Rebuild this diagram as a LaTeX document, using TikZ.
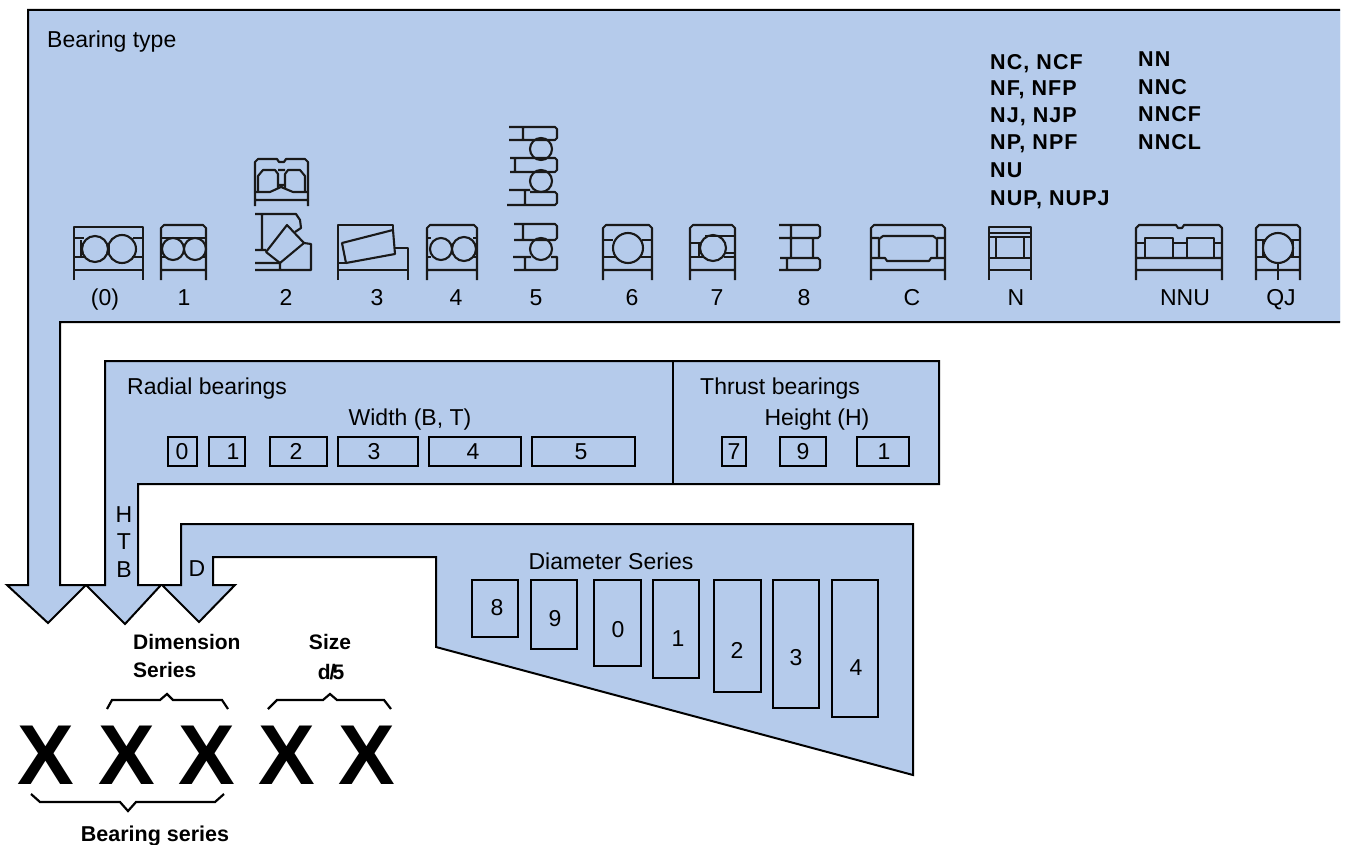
\documentclass[tikz,border=0pt]{standalone}
\usepackage{fontspec}
\setmainfont{Liberation Sans}
\definecolor{panelblue}{HTML}{B5CBEB}
\newcommand{\bearingframe}[2]{\draw[ring] (#1,280) -- (#1,228) -- ({#1+3},225) -- ({#2-3},225) -- (#2,228) -- (#2,280) (#1,270) -- (#2,270);}
\begin{document}
\begin{tikzpicture}[
        x=1pt,
        y=-1pt,
        panel/.style={draw=black, line width=2pt, fill=panelblue, line join=miter},
        ring/.style={draw=black!90, line width=2.1pt, line join=round},
        txt/.style={inner sep=0pt, text height=16.5pt, text depth=0pt, font=\fontsize{23}{27}\selectfont},
        heavy/.style={inner sep=0pt, text height=16pt, text depth=0pt, font=\fontsize{21}{27}\selectfont\bfseries},
        code/.style={heavy, anchor=west, font=\fontsize{21.5}{27}\selectfont\bfseries\addfontfeature{LetterSpace=5}},
        bigx/.style={inner sep=0pt, anchor=base, font=\fontsize{85}{90}\selectfont\bfseries},
        cell/.style={draw, line width=2pt, inner sep=0pt, outer sep=0pt}
    ]
        \useasboundingbox (0,0) rectangle (1348,845);

        % blue panels
        \fill[panelblue] (28,10) -- (1340,10) -- (1340,322) -- (60,322) -- (60,585) -- (28,585) -- cycle;
        \draw[panel] (1340,10) -- (28,10) -- (28,585) -- (7,585) -- (48,623) -- (86,585) -- (60,585) -- (60,322) -- (1340,322);
        \draw[panel] (105,361) -- (939,361) -- (939,484) -- (138,484) -- (138,585) -- (161,585) -- (125,624) -- (86,585) -- (105,585) -- cycle;
        \draw[panel] (181,524) -- (913,524) -- (913,775) -- (436,647) -- (436,557) -- (213,557) -- (213,585) -- (235,585) -- (199,622) -- (162,585) -- (181,585) -- cycle;
        \draw[line width=2pt] (673,361) -- (673,484);

        \node[txt, anchor=west] (bearingtype) at (47,39) {Bearing type};

        % bearing (0)
        \draw[ring] (74,280) -- (74,227) -- (143,227) -- (143,280) (74,270) -- (143,270) (74,238) -- (84,238) (133,238) -- (143,238) (81,240) -- (81,256) (74,257) -- (85,257) (132,257) -- (143,257);
        \draw[ring] (95,249) circle[radius=13pt] (122,249) circle[radius=14pt];
        \draw[ring, line width=3pt] (108,243) -- (108,255);
        % bearing 1
        \bearingframe{161}{206}
        \draw[ring] (161,238) -- (206,238) (161,257) -- (165,257) (202,257) -- (206,257);
        \draw[ring] (173,249) circle[radius=11pt] (195,249) circle[radius=11pt];
        % bearing 2, two drawings
        \draw[ring] (255,206) -- (255,162) -- (258,159) -- (277,159) -- (279,162) -- (284,162) -- (286,159) -- (305,159) -- (308,162) -- (308,206) (255,200) -- (308,200);
        \draw[ring] (258,192) -- (258,176) -- (263,170) -- (275,170) -- (278,174) -- (278,188) (305,192) -- (305,176) -- (300,170) -- (288,170) -- (285,174) -- (285,188);
        \draw[ring] (278,170) -- (285,170) (279,185) -- (284,185) (255,192) -- (270,192) -- (281,187) -- (293,192) -- (308,192);
        \draw[ring] (255,214) -- (296,214) -- (300,220) -- (301,228) -- (295,232) (262,214) -- (262,250) (255,250) -- (266,250);
        \draw[ring] (287,225) -- (304,243) -- (280,263) -- (266,252) -- cycle;
        \draw[ring] (255,263) -- (280,263) (255,270) -- (311,270) -- (311,244) -- (304,243) (280,263) -- (280,270);
        % bearing 3
        \draw[ring] (338,280) -- (338,225) -- (393,225) -- (393,230) (338,270) -- (408,270) (408,280) -- (408,248) -- (395,248) (338,263) -- (346,263);
        \draw[ring] (342,243) -- (393,230) -- (395,254) -- (346,263) -- cycle;
        % bearing 4
        \bearingframe{427}{477}
        \draw[ring] (427,257) -- (431,257) (473,257) -- (477,257) (427,238) -- (431,238) (473,238) -- (477,238);
        \draw[ring] (441,249) circle[radius=11pt] (464,249) circle[radius=12pt];
        % bearing 5, three drawings
        \draw[ring] (509,127) -- (555,127) -- (557,129) -- (557,138) -- (555,140) -- (509,140) (523,127) -- (523,140);
        \draw[ring] (541,149) circle[radius=11pt] (541,181) circle[radius=11pt];
        \draw[ring] (510,158) -- (555,158) -- (557,160) -- (557,170) -- (555,172) -- (510,172) (515,158) -- (515,172);
        \draw[ring] (509,190) -- (530,190) (530,192) -- (555,192) -- (557,194) -- (557,203) -- (555,205) -- (507,205) (525,190) -- (525,205);
        \draw[ring] (514,224) -- (555,224) -- (557,226) -- (557,238) -- (555,240) -- (514,240) (523,224) -- (523,240);
        \draw[ring] (541,249) circle[radius=11pt];
        \draw[ring] (513,257) -- (531,257) (551,257) -- (557,257) -- (557,269) -- (555,270) -- (514,270) (525,257) -- (525,270);
        % bearing 6
        \bearingframe{603}{652}
        \draw[ring] (603,240) -- (613,240) (642,240) -- (652,240) (603,257) -- (616,257) (640,257) -- (652,257);
        \draw[ring] (628,248) circle[radius=15pt];
        % bearing 7
        \bearingframe{690}{735}
        \draw[ring] (705,236) -- (735,236) (690,243) -- (700,243) (699,243) -- (699,257) (725,253) -- (735,253) (690,257) -- (703,257) (724,257) -- (735,257);
        \draw[ring] (713,248) circle[radius=13pt];
        % bearing 8
        \draw[ring] (779,225) -- (818,225) -- (820,227) -- (820,236) -- (818,238) -- (779,238) (791,225) -- (791,258) (813,238) -- (813,258);
        \draw[ring] (780,258) -- (818,258) -- (820,260) -- (820,268) -- (818,270) -- (779,270) (787,258) -- (787,270);
        % bearing C
        \bearingframe{871}{945}
        \draw[ring] (871,238) -- (879,238) (937,238) -- (945,238) (871,258) -- (885,258) -- (887,261) -- (929,261) -- (931,258) -- (945,258);
        \draw[ring] (879,258) -- (879,239) -- (883,236) -- (933,236) -- (937,239) -- (937,258);
        % bearing N
        \draw[ring] (989,280) -- (989,227) -- (1031,227) -- (1031,280) (989,233) -- (1031,233) (989,270) -- (1031,270) (989,258) -- (1031,258);
        \draw[ring] (996,237) rectangle (1024,258);
        \draw[ring] (989,237) -- (996,237) (1024,237) -- (1031,237);
        % bearing NNU
        \draw[ring] (1136,280) -- (1136,228) -- (1139,225) -- (1176,225) -- (1178,228) -- (1182,228) -- (1184,225) -- (1219,225) -- (1222,228) -- (1222,280) (1136,270) -- (1222,270) (1136,258) -- (1222,258);
        \draw[ring] (1145,238) rectangle (1173,258) (1187,238) rectangle (1214,258);
        \draw[ring] (1136,243) -- (1145,243) (1173,243) -- (1187,243) (1214,243) -- (1222,243);
        % bearing QJ
        \bearingframe{1256}{1300}
        \draw[ring] (1256,240) -- (1265,240) (1291,240) -- (1300,240) (1263,240) -- (1263,257) (1293,240) -- (1293,257) (1256,257) -- (1267,257) (1289,257) -- (1300,257) (1278,263) -- (1278,280);
        \draw[ring] (1278,248) circle[radius=15pt];

        \foreach \nm/\lab/\x in {a/(0)/105, b/1/184, c/2/286, d/3/377, e/4/456, f/5/536, g/6/632, h/7/717, i/8/804, j/C/912, k/N/1016, l/NNU/1185, m/QJ/1281}
            \node[txt] (type\nm) at (\x,297) {\lab};

        \foreach \nm/\lab/\y in {a/{NC, NCF}/62, b/{NF, NFP}/88, c/{NJ, NJP}/115, d/{NP, NPF}/142, e/NU/170, f/{NUP, NUPJ}/197}
            \node[code] (codeleft\nm) at (990,\y) {\lab};
        \foreach \nm/\lab/\y in {a/NN/59, b/NNC/87, c/NNCF/114, d/NNCL/142}
            \node[code] (coderight\nm) at (1138,\y) {\lab};

        % width and height series
        \node[txt, anchor=west] (radial) at (127,386) {Radial bearings};
        \node[txt] (width) at (410,417) {Width (B, T)};
        \node[txt, anchor=west] (thrust) at (700,386) {Thrust bearings};
        \node[txt] (height) at (817,417) {Height (H)};
        \foreach \nm/\lab/\xa/\xb/\tx in {w0/0/168/197/182, w1/1/209/245/233, w2/2/270/327/296, w3/3/338/418/374, w4/4/429/521/473, w5/5/532/635/581, h7/7/722/746/734, h9/9/780/826/803, h1/1/857/909/884} {
            \node[cell, minimum height=29pt, minimum width={\xb-\xa}, anchor=west] (\nm) at (\xa,451.5) {};
            \node[txt] (\nm text) at (\tx,451.5) {\lab};
        }

        \node[txt] (lblh) at (124,514) {H};
        \node[txt] (lblt) at (124,541) {T};
        \node[txt] (lblb) at (124,569) {B};
        \node[txt] (lbld) at (197,568) {D};

        % diameter series
        \node[txt] (diameter) at (611,561) {Diameter Series};
        \foreach \nm/\lab/\xa/\xb/\ya/\tx/\ty in {d8/8/472/518/637/497/607, d9/9/531/577/649/555/618, d0/0/594/641/666/618/629, d1/1/653/699/678/678/638, d2/2/714/761/692/737/650, d3/3/773/819/708/796/657, d4/4/832/878/717/856/667} {
            \node[cell, minimum width={\xb-\xa}, minimum height={\ya-580}, anchor=north west] (\nm) at (\xa,580) {};
            \node[txt] (\nm text) at (\tx,\ty) {\lab};
        }

        % number code
        \foreach \nm/\x in {a/46, b/127, c/207, d/287, e/367}
            \node[bigx] (x\nm) at (\x,784) {X};
        \draw[line width=2.2pt] (107,709) -- (112,700) -- (160,700) -- (167,694) -- (173,700) -- (222,700) -- (228,709);
        \draw[line width=2.2pt] (268,709) -- (277,700) -- (323,700) -- (330,694) -- (337,700) -- (384,700) -- (391,709);
        \draw[line width=2.2pt] (31,794) -- (40,802) -- (120,802) -- (128,811) -- (136,802) -- (215,802) -- (224,794);

        \node[heavy, anchor=west] (dimension) at (133,641) {Dimension};
        \node[heavy, anchor=west] (series) at (133,669) {Series};
        \node[heavy] (size) at (330,641) {Size};
        \node[heavy] (sizecode) at (331,671) {d\kern-1pt/\kern-3pt5};
        \node[heavy, font=\fontsize{21.5}{27}\selectfont\bfseries] (bearingseries) at (155,833) {Bearing series};
\end{tikzpicture}
\end{document}
